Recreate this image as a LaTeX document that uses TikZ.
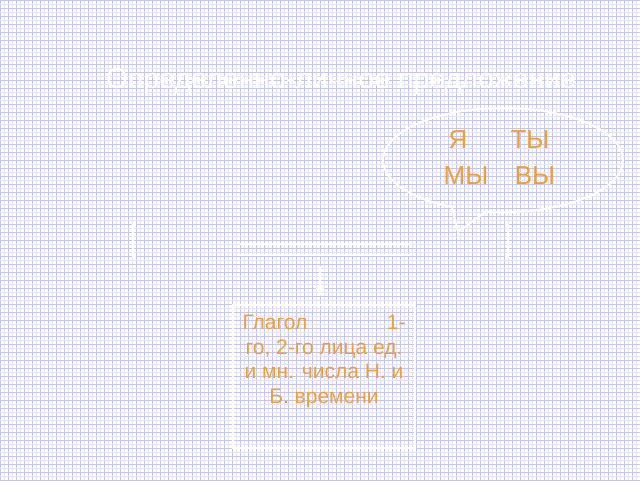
\documentclass[tikz,border=0pt]{standalone}
\usepackage{fontspec}
\setmainfont{Liberation Sans}
\usetikzlibrary{arrows.meta,calc}
\definecolor{gridlight}{RGB}{226,226,248}
\definecolor{griddark}{RGB}{196,196,240}
\definecolor{orangetext}{RGB}{240,160,50}
\tikzset{
  whiteline/.style={draw=white,line width=2pt},
  bubbletext/.style={text=orangetext,font=\fontsize{26}{28}\selectfont,inner sep=0pt},
  boxtext/.style={text=orangetext,font=\fontsize{21}{24.5}\selectfont,inner sep=0pt,align=center},
}
\begin{document}
\begin{tikzpicture}[x=1pt,y=-1pt]
\useasboundingbox (0,0) rectangle (640,480);
\fill[white] (0,0) rectangle (640,480);
% grid
\foreach \i in {0,...,160}{
  \pgfmathsetmacro{\xx}{4*\i}
  \ifodd\i
    \draw[gridlight,line width=0.7pt] (\xx,0) -- (\xx,480);
  \else
    \draw[griddark,line width=0.7pt] (\xx,0) -- (\xx,480);
  \fi
}
\foreach \i in {0,...,120}{
  \pgfmathsetmacro{\yy}{4*\i}
  \ifodd\i
    \draw[gridlight,line width=0.7pt] (0,\yy) -- (640,\yy);
  \else
    \draw[griddark,line width=0.7pt] (0,\yy) -- (640,\yy);
  \fi
}
% title
\node[text=white,font=\fontsize{28.5}{32}\selectfont,inner sep=0pt] (title) at (341,82) {Определенно-личное предложение};
% speech bubble
\coordinate (bc) at (503,160);
\coordinate (tip) at (458,232);
\draw[whiteline,line join=round] ($(bc)+(-17.1,51.5)$) arc[start angle=98.2,end angle=-244.8,x radius=120,y radius=52] -- (tip) -- cycle;
\node[bubbletext] (ya) at (458,140) {Я};
\node[bubbletext] (ty) at (530,140) {ТЫ};
\node[bubbletext] (my) at (466,176) {МЫ};
\node[bubbletext] (vy) at (535,176) {ВЫ};
% brackets
\draw[whiteline] (136,225) -- (133,225) -- (133,257) -- (136,257);
\draw[whiteline] (505,225) -- (508,225) -- (508,257) -- (505,257);
% double line
\draw[whiteline] (240,244) -- (410,244);
\draw[whiteline] (240,255) -- (410,255);
\coordinate (dl) at (320,266);
\coordinate (arrowend) at (320,297);
% box
\node[draw=white,line width=2pt,minimum width=182pt,minimum height=143pt,inner sep=0pt] (box) at (324,376.5) {};
\node[boxtext,anchor=north] (boxtxt) at (324,315) {\makebox[163pt]{Глагол\hfill 1-}\\го, 2-го лица ед.\\и мн. числа Н. и\\Б. времени};
\draw[white,line width=2pt,-{Latex[length=9pt,width=9pt]}] (dl) -- (arrowend);
\end{tikzpicture}
\end{document}
